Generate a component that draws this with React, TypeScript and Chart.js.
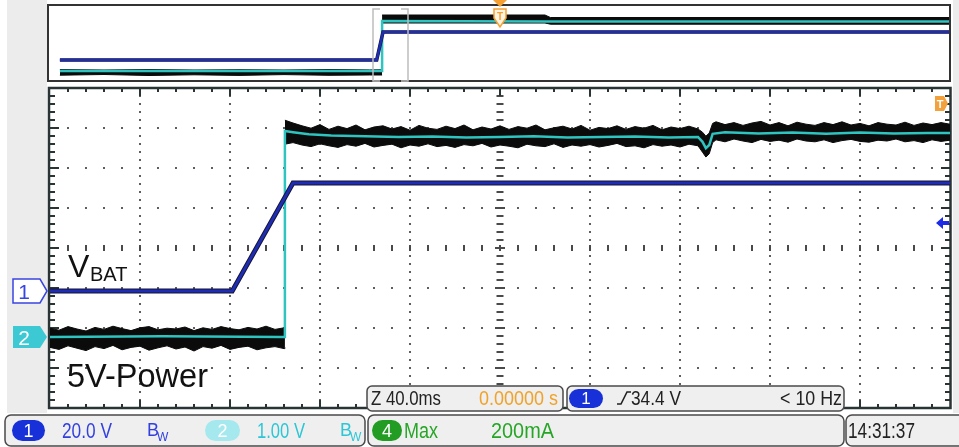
import React, { useEffect, useRef } from "react";
import { Chart, registerables } from "chart.js";

Chart.register(...registerables);

// ---------- Main (zoomed) window: time in ms, 40 ms/div ----------
const CH1_T = [-200, -119, -92, 200];
const CH1_V = [0, 0, 54, 54]; // V, 20 V/div

const CH2_T = [-200, -150, -96.5, -95.6, -95.6, -92, -85, -75, -60, -45, -30, -15, 0, 15, 30, 45, 60, 75, 88, 90, 91.5, 93, 94.5, 100, 115, 130, 145, 160, 175, 190, 200];
const CH2_V = [0, 0.02, 0, 0, 5.15, 5.12, 5.07, 5.04, 5.02, 5.0, 5.01, 4.99, 5.0, 5.02, 4.99, 5.0, 5.01, 4.99, 5.0, 4.88, 4.72, 4.8, 5.08, 5.12, 5.09, 5.11, 5.08, 5.11, 5.09, 5.1, 5.1]; // V, 1 V/div

// peak-detect envelope of channel 2 (before the step)
const CH2_PRE_T = [-200, -196, -192, -188, -184, -180, -176, -172, -168, -164, -160, -156, -152, -148, -144, -140, -136, -132, -128, -124, -120, -116, -112, -108, -104, -100, -96, -95.6];
const CH2_PRE_HI = [0.22, 0.17, 0.26, 0.2, 0.15, 0.24, 0.19, 0.27, 0.21, 0.16, 0.23, 0.26, 0.18, 0.22, 0.2, 0.25, 0.16, 0.23, 0.19, 0.26, 0.21, 0.18, 0.24, 0.2, 0.27, 0.19, 0.23, 0.22];
const CH2_PRE_LO = [-0.26, -0.31, -0.22, -0.28, -0.34, -0.24, -0.29, -0.21, -0.32, -0.26, -0.23, -0.33, -0.27, -0.22, -0.3, -0.25, -0.35, -0.24, -0.28, -0.21, -0.31, -0.26, -0.23, -0.32, -0.27, -0.24, -0.29, -0.26];

// peak-detect envelope of channel 2 (after the step)
const CH2_POST_T = [-95.6, -92, -88, -84, -80, -76, -72, -68, -64, -60, -56, -52, -48, -44, -40, -36, -32, -28, -24, -20, -16, -12, -8, -4, 0, 4, 8, 12, 16, 20, 24, 28, 32, 36, 40, 44, 48, 52, 56, 60, 64, 68, 72, 76, 80, 84, 88, 90, 91.5, 93, 94.5, 96, 100, 104, 108, 112, 116, 120, 124, 128, 132, 136, 140, 144, 148, 152, 156, 160, 164, 168, 172, 176, 180, 184, 188, 192, 196, 200];
const CH2_POST_HI = [5.42, 5.35, 5.28, 5.22, 5.31, 5.19, 5.27, 5.21, 5.3, 5.18, 5.25, 5.28, 5.2, 5.26, 5.17, 5.29, 5.22, 5.19, 5.27, 5.21, 5.3, 5.18, 5.25, 5.2, 5.28, 5.19, 5.26, 5.22, 5.3, 5.18, 5.23, 5.27, 5.2, 5.29, 5.17, 5.24, 5.21, 5.28, 5.19, 5.26, 5.22, 5.29, 5.18, 5.25, 5.21, 5.27, 5.2, 5.12, 5.02, 5.1, 5.34, 5.38, 5.31, 5.36, 5.29, 5.35, 5.39, 5.3, 5.36, 5.28, 5.37, 5.32, 5.29, 5.36, 5.31, 5.38, 5.3, 5.34, 5.28, 5.36, 5.32, 5.3, 5.37, 5.29, 5.35, 5.31, 5.36, 5.32];
const CH2_POST_LO = [4.82, 4.86, 4.8, 4.76, 4.83, 4.78, 4.74, 4.81, 4.77, 4.84, 4.75, 4.79, 4.82, 4.73, 4.8, 4.77, 4.83, 4.76, 4.79, 4.74, 4.81, 4.78, 4.84, 4.75, 4.8, 4.77, 4.73, 4.82, 4.78, 4.76, 4.83, 4.74, 4.8, 4.77, 4.81, 4.75, 4.79, 4.84, 4.76, 4.78, 4.73, 4.81, 4.77, 4.8, 4.75, 4.82, 4.78, 4.62, 4.5, 4.58, 4.86, 4.93, 4.88, 4.95, 4.9, 4.86, 4.94, 4.89, 4.92, 4.87, 4.95, 4.9, 4.88, 4.93, 4.86, 4.91, 4.94, 4.89, 4.87, 4.92, 4.9, 4.95, 4.88, 4.91, 4.86, 4.93, 4.89, 4.92];

// ---------- Overview window: time in s, 1 s/div ----------
const OV_CH1_T = [-4.89, -1.37, -1.3, 4.99];
const OV_CH1_V = [0, 0, 54, 54];
const OV_CH2_T = [-4.89, -1.33, -1.31, -1.31, 0.5, 4.99];
const OV_CH2_V = [0, 0, 0, 5.0, 4.95, 4.95];
const OV_PRE_T = [-4.89, -4.4, -3.9, -3.4, -2.9, -2.4, -1.9, -1.45, -1.31];
const OV_PRE_HI = [0.14, 0.1, 0.15, 0.1, 0.13, 0.1, 0.15, 0.11, 0.12];
const OV_PRE_LO = [-0.42, -0.35, -0.45, -0.38, -0.44, -0.36, -0.43, -0.4, -0.4];
const OV_POST_T = [-1.31, 0.5, 0.56, 4.99];
const OV_POST_HI = [5.6, 5.6, 5.35, 5.35];
const OV_POST_LO = [4.8, 4.8, 4.68, 4.68];

const BLUE = "#1f2db4";
const BLUE_EDGE = "#151535";
const TEAL = "#2ec4c0";
const NOISE = "#0b0b0b";
const FONT = "'Liberation Sans', Arial, Helvetica, sans-serif";

const pts = (t: number[], v: number[]) => t.map((x, i) => ({ x, y: v[i] }));

const line = (data: any, yAxisID: string, color: string, width: number, fill: any = false) => ({
  data,
  yAxisID,
  borderColor: color,
  backgroundColor: color,
  borderWidth: width,
  pointRadius: 0,
  tension: 0,
  fill,
});

const graticulePlugin = {
  id: "graticule",
  beforeDraw(chart: any) {
    const { ctx } = chart;
    ctx.save();
    ctx.fillStyle = "#ffffff";
    ctx.fillRect(0, 0, chart.width, chart.height);
    ctx.fillStyle = "#ececec";
    ctx.fillRect(7, 0, 40, 413);
    ctx.fillRect(953, 0, 6, 413);
    ctx.restore();
  },
  beforeDatasetsDraw(chart: any) {
    const { ctx, chartArea: a } = chart;
    const xs = chart.scales.x;
    const ys = chart.scales.yDiv;
    const cx = Math.round(xs.getPixelForValue(0));
    const cy = Math.round(ys.getPixelForValue(0));
    ctx.save();
    ctx.fillStyle = "#5e5e5e";
    for (let k = -4; k <= 4; k++) {
      if (k === 0) continue;
      const px = Math.round(xs.getPixelForValue(k * 40));
      for (let j = 1; j < 40; j++) {
        const py = Math.round(ys.getPixelForValue(-4 + j * 0.2));
        ctx.fillRect(px - 1, py - 1, 2, 2);
      }
    }
    for (let d = -3; d <= 3; d++) {
      if (d === 0) continue;
      const py = Math.round(ys.getPixelForValue(d));
      for (let i = 1; i < 50; i++) {
        const px = Math.round(xs.getPixelForValue(-200 + i * 8));
        ctx.fillRect(px - 1, py - 1, 2, 2);
      }
    }
    ctx.strokeStyle = "#4a4a4a";
    ctx.lineWidth = 2;
    ctx.beginPath();
    for (let j = 1; j < 40; j++) {
      const py = Math.round(ys.getPixelForValue(-4 + j * 0.2));
      const w = j % 5 === 0 ? 5 : 3.5;
      ctx.moveTo(cx - w, py);
      ctx.lineTo(cx + w, py);
    }
    for (let i = 1; i < 50; i++) {
      const px = Math.round(xs.getPixelForValue(-200 + i * 8));
      ctx.moveTo(px, cy - 3);
      ctx.lineTo(px, cy + 3);
    }
    ctx.stroke();
    ctx.strokeStyle = "#2b3434";
    ctx.beginPath();
    for (let i = 1; i < 50; i++) {
      const px = Math.round(xs.getPixelForValue(-200 + i * 8));
      const len = i % 5 === 0 ? 8 : 4;
      ctx.moveTo(px, a.top);
      ctx.lineTo(px, a.top + len);
      ctx.moveTo(px, a.bottom);
      ctx.lineTo(px, a.bottom - len);
    }
    for (let j = 1; j < 40; j++) {
      const py = Math.round(ys.getPixelForValue(-4 + j * 0.2));
      const len = j % 5 === 0 ? 9 : 5;
      ctx.moveTo(a.left, py);
      ctx.lineTo(a.left + len, py);
      ctx.moveTo(a.right, py);
      ctx.lineTo(a.right - len, py);
    }
    ctx.stroke();
    ctx.lineWidth = 2.5;
    ctx.strokeRect(a.left - 1, a.top, a.right - a.left + 1.5, a.bottom - a.top);
    ctx.restore();
  },
};

export default function App() {
  const mainRef = useRef<HTMLCanvasElement>(null);
  const ovRef = useRef<HTMLCanvasElement>(null);

  useEffect(() => {
    const common: any = {
      responsive: false,
      animation: false,
      events: [],
      plugins: { legend: { display: false }, tooltip: { enabled: false } },
    };
    const main = new Chart(mainRef.current as HTMLCanvasElement, {
      type: "line",
      data: {
        datasets: [
          line(pts(CH1_T, CH1_V), "y1", BLUE, 2.8),
          line(pts(CH1_T, CH1_V), "y1", BLUE_EDGE, 4.8),
          line(pts(CH2_T, CH2_V), "y2", TEAL, 2.5),
          line(pts(CH2_PRE_T, CH2_PRE_HI), "y2", NOISE, 1, "+1"),
          line(pts(CH2_PRE_T, CH2_PRE_LO), "y2", NOISE, 1),
          line(pts(CH2_POST_T, CH2_POST_HI), "y2", NOISE, 1, "+1"),
          line(pts(CH2_POST_T, CH2_POST_LO), "y2", NOISE, 1),
        ] as any,
      },
      options: {
        ...common,
        layout: { padding: { left: 50, top: 88, right: 9, bottom: 39 } },
        scales: {
          x: { type: "linear", min: -200, max: 200, display: false },
          y1: { type: "linear", min: -58.5, max: 101.5, display: false },
          y2: { type: "linear", min: -1.775, max: 6.225, display: false },
          yDiv: { type: "linear", min: -4, max: 4, display: false },
        },
      },
      plugins: [graticulePlugin],
    });
    const ov = new Chart(ovRef.current as HTMLCanvasElement, {
      type: "line",
      data: {
        datasets: [
          line(pts(OV_CH1_T, OV_CH1_V), "oy1", BLUE, 2.5),
          line(pts(OV_CH1_T, OV_CH1_V), "oy1", BLUE_EDGE, 3.5),
          line(pts(OV_CH2_T, OV_CH2_V), "oy2", TEAL, 2.5),
          line(pts(OV_PRE_T, OV_PRE_HI), "oy2", NOISE, 1, "+1"),
          line(pts(OV_PRE_T, OV_PRE_LO), "oy2", NOISE, 1),
          line(pts(OV_POST_T, OV_POST_HI), "oy2", NOISE, 1, "+1"),
          line(pts(OV_POST_T, OV_POST_LO), "oy2", NOISE, 1),
        ] as any,
      },
      options: {
        ...common,
        layout: { padding: { left: 50, top: 6, right: 9, bottom: 8 } },
        scales: {
          x: { type: "linear", min: -5, max: 5, display: false },
          oy1: { type: "linear", min: -38.57, max: 104.14, display: false },
          oy2: { type: "linear", min: -0.9, max: 6.5, display: false },
        },
      },
    });
    return () => {
      main.destroy();
      ov.destroy();
    };
  }, []);

  const box = { fill: "#efefef", stroke: "#4a4a4a", strokeWidth: 1.5 };

  return (
    <div style={{ position: "fixed", left: 0, top: 0, width: 959, height: 447, overflow: "hidden", background: "#fff" }}>
      <canvas ref={mainRef} width={959} height={447} style={{ position: "absolute", left: 0, top: 0 }} />
      <canvas ref={ovRef} width={959} height={88} style={{ position: "absolute", left: 0, top: 0 }} />
      <svg width={959} height={447} style={{ position: "absolute", left: 0, top: 0 }} fontFamily={FONT}>
        <rect x={48} y={5} width={902} height={76} fill="none" stroke="#333" strokeWidth={2} />
        <path d="M380 9 H373 V81 H380 M401 9 H408 V81 H401" fill="none" stroke="#bdbdbd" strokeWidth={1.5} />
        <path d="M493 0 H507 L500 7 Z" fill="#f5a030" />
        <path d="M494 9 H506 V18 L500 27 L494 18 Z" fill="#fff4e4" stroke="#f5a030" strokeWidth={1.5} />
        <text x={500} y={20} fontSize={10} textAnchor="middle" fill="#f5a030" fontWeight="bold">T</text>

        <path d="M935 96 H944 L948 103.5 L944 111 H935 Z" fill="#f3a13c" />
        <text x={940} y={108} fontSize={11} textAnchor="middle" fill="#fff" fontWeight="bold">T</text>
        <path d="M936 223 L943 217 V221 H949 V225 H943 V229 Z" fill="#1d2be6" />

        <path d="M13 279 H40 L47 291 L40 303 H13 Z" fill="#fff" stroke="#3845e0" strokeWidth={1.5} />
        <text x={24} y={299} fontSize={21} textAnchor="middle" fill="#3845e0">1</text>
        <path d="M13 326 H40 L47 337 L40 348 H13 Z" fill="#3cc9d4" />
        <text x={24} y={345} fontSize={21} textAnchor="middle" fill="#fff">2</text>

        <text x={68} y={277} fontSize={32} fill="#111">V</text>
        <text x={90} y={281} fontSize={20} fill="#111">BAT</text>
        <text x={67} y={387} fontSize={34} fill="#111" textLength={141} lengthAdjust="spacingAndGlyphs">5V-Power</text>

        <rect x={367} y={386} width={196} height={25} rx={5} {...box} />
        <rect x={567} y={386} width={277} height={25} rx={5} {...box} />
        <text x={371} y={405} fontSize={21} fill="#222" textLength={70} lengthAdjust="spacingAndGlyphs">Z 40.0ms</text>
        <text x={479} y={405} fontSize={21} fill="#f0a22a" textLength={79} lengthAdjust="spacingAndGlyphs">0.00000 s</text>
        <rect x={569} y={389} width={34} height={19} rx={9.5} fill="#1730d8" />
        <text x={586} y={404} fontSize={17} textAnchor="middle" fill="#fff">1</text>
        <path d="M617 404 H621 L627 392 H631" fill="none" stroke="#222" strokeWidth={1.6} />
        <text x={631} y={405} fontSize={21} fill="#222" textLength={50} lengthAdjust="spacingAndGlyphs">34.4 V</text>
        <text x={780} y={405} fontSize={21} fill="#222" textLength={62} lengthAdjust="spacingAndGlyphs">&lt; 10 Hz</text>

        <rect x={5} y={415} width={360} height={31} rx={6} {...box} />
        <rect x={368} y={415} width={476} height={31} rx={6} {...box} />
        <rect x={846} y={415} width={125} height={31} rx={6} {...box} />
        <rect x={12} y={420} width={33} height={21} rx={10.5} fill="#1730d8" />
        <text x={28.5} y={437} fontSize={18} textAnchor="middle" fill="#fff">1</text>
        <text x={62} y={438} fontSize={22} fill="#3340e0" textLength={50} lengthAdjust="spacingAndGlyphs">20.0 V</text>
        <text x={147} y={436} fontSize={18} fill="#3340e0">B</text>
        <text x={157} y={441} fontSize={12} fill="#3340e0">W</text>
        <rect x={205} y={420} width={35} height={21} rx={10.5} fill="#a5e9ef" />
        <text x={222.5} y={437} fontSize={18} textAnchor="middle" fill="#fff">2</text>
        <text x={257} y={438} fontSize={22} fill="#2cc6d6" textLength={48} lengthAdjust="spacingAndGlyphs">1.00 V</text>
        <text x={340} y={436} fontSize={18} fill="#2cc6d6">B</text>
        <text x={350} y={441} fontSize={12} fill="#2cc6d6">W</text>
        <rect x={372} y={420} width={30} height={21} rx={10.5} fill="#229c22" />
        <text x={387} y={437} fontSize={18} textAnchor="middle" fill="#fff">4</text>
        <text x={404} y={438} fontSize={22} fill="#26a626" textLength={34} lengthAdjust="spacingAndGlyphs">Max</text>
        <text x={491} y={438} fontSize={22} fill="#26a626" textLength={63} lengthAdjust="spacingAndGlyphs">200mA</text>
        <text x={848} y={438} fontSize={22} fill="#222" textLength={67} lengthAdjust="spacingAndGlyphs">14:31:37</text>
      </svg>
    </div>
  );
}
